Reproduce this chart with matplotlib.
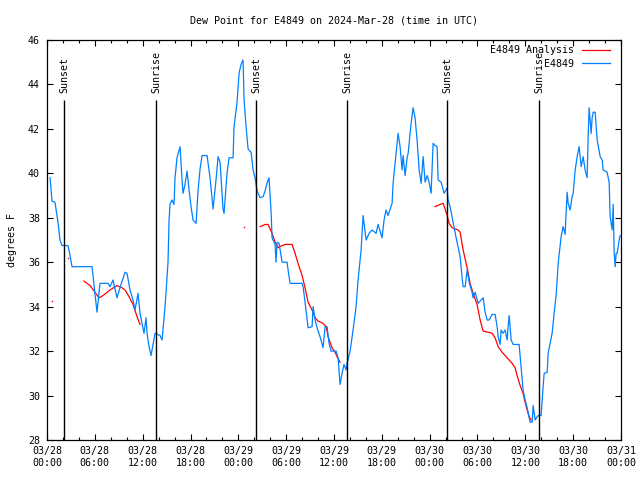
import matplotlib
matplotlib.use("Agg")
import matplotlib.pyplot as plt
from matplotlib.ticker import MultipleLocator
import numpy as np

# ---- data (time in hours since 2024-03-28 00:00 UTC) ----
blue_hours = [0.38, 0.63, 1.0, 1.38, 1.63, 1.88, 2.63, 2.89, 3.14, 5.65, 6.02, 6.27, 6.65, 7.65, 7.9,
              8.28, 8.78, 9.28, 9.79, 10.04, 10.41, 10.79, 11.04, 11.42, 11.67, 11.92, 12.17, 12.42,
              12.55, 12.8, 13.05, 13.3, 13.55, 14.18, 14.43, 14.81, 15.18, 15.31, 15.43, 15.68, 15.93,
              16.06, 16.31, 16.69, 16.94, 17.06, 17.31, 17.57, 17.82, 18.07, 18.32, 18.7, 18.95, 19.2,
              19.45, 20.08, 20.45, 20.83, 21.2, 21.46, 21.71, 22.08, 22.21, 22.58, 22.84, 23.34, 23.46,
              23.84, 24.09, 24.34, 24.59, 24.72, 24.97, 25.22, 25.6, 25.85, 26.1, 26.35, 26.73, 27.1,
              27.35, 27.6, 27.85, 28.11, 28.23, 28.61, 28.73, 28.86, 29.11, 29.49, 30.11, 30.24, 30.49,
              32.0, 32.12, 32.37, 32.75, 33.25, 33.38, 33.63, 33.88, 34.25, 34.63, 34.88, 35.13, 35.38,
              35.63, 36.26, 36.51, 36.76, 37.01, 37.26, 37.52, 37.64, 38.02, 38.39, 38.77, 39.02, 39.4,
              39.65, 40.03, 40.4, 40.78, 41.28, 41.53, 42.03, 42.28, 42.53, 42.78, 43.29, 43.41, 43.66,
              44.04, 44.29, 44.54, 44.67, 44.92, 45.17, 45.3, 45.67, 45.92, 46.17, 46.42, 46.68, 46.93,
              47.18, 47.43, 47.68, 47.93, 48.18, 48.43, 48.68, 48.93, 49.06, 49.44, 49.81, 50.19, 50.31,
              50.56, 50.94, 51.32, 51.82, 52.07, 52.2, 52.45, 52.7, 52.95, 53.32, 53.45, 53.7, 54.08,
              54.45, 54.71, 54.96, 55.21, 55.46, 55.83, 56.21, 56.46, 56.59, 56.84, 56.96, 57.21, 57.47,
              57.72, 57.84, 57.97, 58.22, 58.47, 59.22, 59.47, 59.72, 59.97, 60.23, 60.6, 60.85, 60.98,
              61.23, 61.48, 61.61, 61.98, 62.23, 62.36, 62.74, 62.86, 63.36, 63.61, 63.86, 64.12, 64.49,
              64.74, 64.99, 65.24, 65.37, 65.62, 65.87, 66.0, 66.25, 66.5, 66.75, 67.0, 67.25, 67.5,
              67.75, 67.88, 68.0, 68.26, 68.38, 68.51, 68.76, 69.01, 69.39, 69.64, 69.76, 70.26, 70.51,
              70.64, 70.89, 71.02, 71.14, 71.27, 71.39, 71.52, 71.77, 71.9]
blue_values = [39.8, 38.75, 38.7, 37.8, 37.0, 36.75, 36.75, 36.3, 35.8, 35.8, 34.6, 33.75, 35.05, 35.05, 34.9,
               35.2, 34.4, 35.0, 35.55, 35.5, 34.75, 34.3, 33.85, 34.6, 33.7, 33.25, 32.8, 33.5,
               32.8, 32.2, 31.8, 32.3, 32.8, 32.7, 32.5, 34.0, 36.0, 37.9, 38.6, 38.8, 38.6,
               39.8, 40.7, 41.2, 39.7, 39.1, 39.5, 40.1, 39.25, 38.5, 37.9, 37.75, 39.25, 40.2,
               40.8, 40.8, 39.8, 38.4, 39.7, 40.75, 40.5, 38.4, 38.2, 40.0, 40.7, 40.7, 42.1,
               43.2, 44.5, 44.9, 45.1, 43.3, 42.1, 41.1, 40.95, 40.15, 39.8, 39.2, 38.9, 38.95,
               39.2, 39.55, 39.8, 38.25, 37.1, 36.8, 36.0, 36.9, 36.85, 36.0, 36.0, 35.65, 35.05,
               35.05, 34.9, 34.2, 33.05, 33.1, 34.0, 33.4, 33.05, 32.65, 32.15, 33.1, 33.1, 32.35,
               32.0, 32.0, 31.7, 30.5, 31.0, 31.4, 31.15, 31.45, 32.0, 32.95, 34.0, 35.2, 36.55,
               38.1, 37.0, 37.3, 37.45, 37.3, 37.7, 37.1, 37.9, 38.35, 38.1, 38.65, 39.55, 40.45,
               41.8, 41.2, 40.15, 40.8, 39.9, 40.7, 40.9, 42.25, 42.95, 42.5, 41.5, 40.15, 39.55,
               40.75, 39.6, 39.9, 39.6, 39.1, 41.35, 41.25, 41.2, 39.7, 39.6, 39.1, 39.35, 38.8,
               38.5, 37.8, 37.1, 36.25, 35.3, 34.9, 34.9, 35.65, 35.1, 34.65, 34.4, 34.65, 34.15,
               34.3, 34.4, 33.75, 33.4, 33.4, 33.65, 33.65, 33.1, 32.65, 32.3, 32.95, 32.8, 32.95,
               32.5, 33.1, 33.6, 32.5, 32.3, 32.3, 31.3, 30.25, 29.8, 29.45, 28.8, 28.8, 29.55,
               28.9, 29.05, 29.1, 29.1, 30.4, 31.0, 31.05, 31.9, 32.8, 33.7, 34.5, 35.95, 37.15,
               37.6, 37.25, 39.15, 38.65, 38.35, 38.95, 39.1, 40.15, 40.75, 41.2, 40.3, 40.75, 40.15,
               39.8, 41.65, 42.95, 41.8, 42.5, 42.75, 42.75, 41.5, 40.75, 40.6, 40.15, 40.05, 39.6,
               38.05, 37.45, 38.6, 36.45, 35.8, 36.4, 36.4, 37.0, 37.2]

# Analysis series (NaN = gap)
red_hours = [4.64, 5.4, 6.02, 6.52, 7.03, 7.9, 8.78, 9.41, 9.79, 10.29, 10.79, 11.29, 11.67, np.nan,
             26.73, 27.35, 27.73, 28.23, 28.61, 28.98, 29.49, 29.86, 30.74, 31.12, 31.49, 32.0, 32.37,
             32.75, 33.25, 33.63, 34.0, 34.63, 35.01, 35.26, 35.76, 36.14, 36.39, 36.76, np.nan,
             48.68, 49.31, 49.69, 49.94, 50.19, 50.44, 50.82, 51.57, 51.82, 52.2, 52.7, 53.07, 53.45,
             53.95, 54.33, 54.71, 55.33, 55.83, 56.21, 56.59, 57.09, 57.72, 58.34, 58.72, 58.97, 59.35,
             59.72, 59.97, 60.23, 60.48, 60.73]
red_values = [35.15, 34.95, 34.65, 34.4, 34.5, 34.75, 34.95, 34.85, 34.75, 34.45, 34.1, 33.55, 33.2, np.nan,
              37.6, 37.7, 37.7, 37.3, 36.9, 36.65, 36.75, 36.8, 36.8, 36.4, 35.95, 35.4, 34.85,
              34.2, 33.85, 33.5, 33.35, 33.25, 33.1, 32.65, 32.15, 31.95, 31.75, 31.5, np.nan,
              38.5, 38.6, 38.65, 38.4, 38.1, 37.75, 37.55, 37.45, 37.35, 36.55, 35.75, 35.05, 34.6,
              34.1, 33.4, 32.9, 32.85, 32.8, 32.6, 32.2, 31.95, 31.7, 31.45, 31.25, 30.9, 30.45,
              30.1, 29.7, 29.35, 29.05, 28.9]
red_iso_hours = [0.63, 2.63, 24.72]
red_iso_values = [34.25, 36.2, 37.6]

sun_hours = [2.13, 13.68, 26.22, 37.64, 50.19, 61.73]
sun_labels = ["Sunset", "Sunrise", "Sunset", "Sunrise", "Sunset", "Sunrise"]

xtick_hours = [0, 6, 12, 18, 24, 30, 36, 42, 48, 54, 60, 66, 72]
xtick_labels = ["03/28\n00:00", "03/28\n06:00", "03/28\n12:00", "03/28\n18:00", "03/29\n00:00",
                "03/29\n06:00", "03/29\n12:00", "03/29\n18:00", "03/30\n00:00", "03/30\n06:00",
                "03/30\n12:00", "03/30\n18:00", "03/31\n00:00"]
yticks = [28, 30, 32, 34, 36, 38, 40, 42, 44, 46]

FONT = "DejaVu Sans Mono"
FS = 7.2
plt.rcParams['font.family'] = FONT
plt.rcParams['font.size'] = FS

fig = plt.figure(figsize=(6.4, 4.8), dpi=100)
ax = fig.add_axes([47/640, 1-440/480, (621-47)/640, 400/480])

BLUE = '#0080ff'
RED = '#ff0000'

ax.plot(red_hours, red_values, color=RED, lw=0.9, label="E4849 Analysis")
ax.plot(red_iso_hours, red_iso_values, color=RED, ls='none', marker='s', ms=1.0, mew=0)
ax.plot(blue_hours, blue_values, color=BLUE, lw=0.9, label="E4849")

for h, lab in zip(sun_hours, sun_labels):
    ax.vlines(h, 28, 43.3, color='black', lw=1.0)
    ax.text(h, 43.6, lab, rotation=90, ha='center', va='bottom', fontsize=FS)

ax.set_xlim(0, 72)
ax.set_ylim(28, 46)
ax.set_xticks(xtick_hours)
ax.set_xticklabels(xtick_labels, linespacing=1.35)
ax.xaxis.set_minor_locator(MultipleLocator(2))
ax.set_yticks(yticks)
ax.tick_params(which='both', direction='in', top=True, right=True, width=0.8)
ax.tick_params(which='major', length=4, labelsize=FS)
ax.tick_params(which='minor', length=2.2)
ax.tick_params(axis='y', pad=5)
ax.tick_params(axis='x', pad=4)
for s in ax.spines.values():
    s.set_linewidth(0.9)

ax.set_ylabel("degrees F", fontsize=FS, labelpad=8)
ax.set_title("Dew Point for E4849 on 2024-Mar-28 (time in UTC)", fontsize=FS, pad=12)

leg = ax.legend(loc='upper right', bbox_to_anchor=(0.99, 1.0), frameon=False, markerfirst=False,
                fontsize=FS, handlelength=2.8, handletextpad=0.8, labelspacing=0.35,
                borderaxespad=0.35, borderpad=0.2)

fig.savefig("out.png", dpi=100)
